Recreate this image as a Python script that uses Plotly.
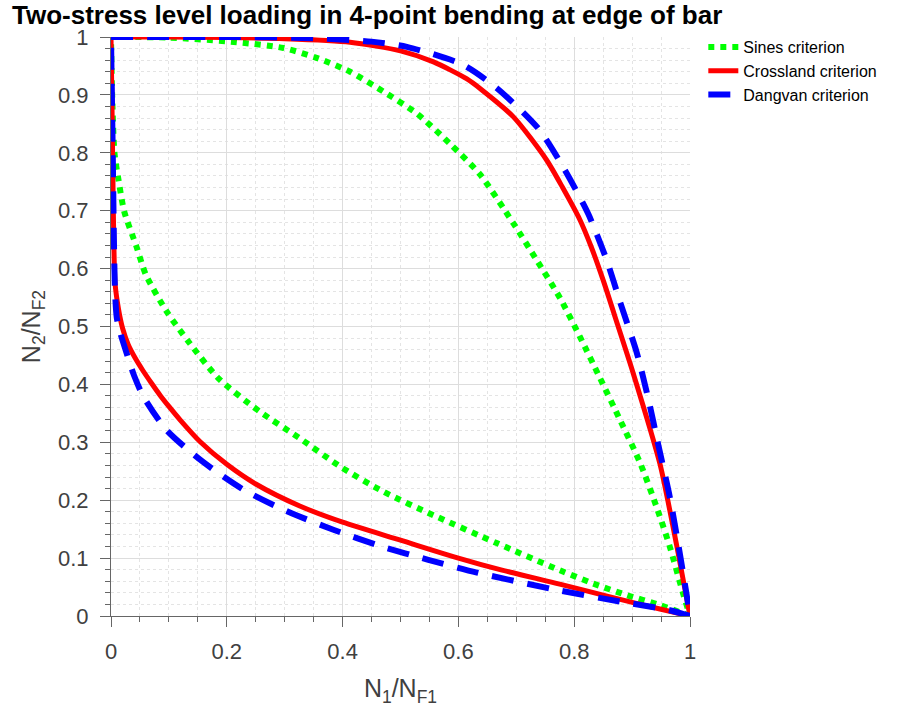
import plotly.graph_objects as go

# Damage curves N2/NF2 vs N1/NF1 for each criterion.
# "up" = low-high branch from (0,1) to (1,0); "dn" = high-low branch from (1,0) to (0,1).
sines_up_x = [0, 0.10, 0.217, 0.298, 0.355, 0.413, 0.470, 0.528, 0.585, 0.637, 0.695,
              0.735, 0.775, 0.810, 0.845, 0.879, 0.914, 0.942, 0.965, 0.988, 1.0]
sines_up_y = [1, 0.999, 0.991, 0.981, 0.964, 0.940, 0.906, 0.868, 0.816, 0.763, 0.678,
              0.615, 0.550, 0.482, 0.410, 0.339, 0.264, 0.189, 0.120, 0.039, 0.0]
sines_dn_x = [1.0, 0.948, 0.891, 0.833, 0.775, 0.666, 0.557, 0.470, 0.396, 0.326, 0.257,
              0.186, 0.136, 0.096, 0.060, 0.044, 0.023, 0.013, 0.006, 0.002, 0]
sines_dn_y = [0.0, 0.019, 0.036, 0.056, 0.079, 0.126, 0.174, 0.215, 0.258, 0.307, 0.353,
              0.410, 0.471, 0.526, 0.590, 0.638, 0.698, 0.753, 0.800, 0.900, 1]

crossland_up_x = [0, 0.10, 0.20, 0.30, 0.413, 0.50, 0.557, 0.614, 0.640, 0.695, 0.752,
                  0.780, 0.810, 0.830, 0.850, 0.875, 0.902, 0.948, 0.977, 1.0]
crossland_up_y = [1, 1.0, 0.999, 0.997, 0.991, 0.976, 0.957, 0.928, 0.909, 0.862, 0.788,
                  0.740, 0.684, 0.636, 0.580, 0.503, 0.419, 0.263, 0.122, 0.0]
crossland_dn_x = [1.0, 0.948, 0.862, 0.775, 0.672, 0.600, 0.500, 0.400, 0.326, 0.250,
                  0.200, 0.154, 0.120, 0.100, 0.085, 0.070, 0.055, 0.042, 0.030, 0.020,
                  0.013, 0.007, 0.004, 0.002, 0]
crossland_dn_y = [0.0, 0.012, 0.033, 0.055, 0.080, 0.100, 0.131, 0.162, 0.190, 0.228,
                  0.262, 0.301, 0.338, 0.362, 0.381, 0.402, 0.424, 0.445, 0.468, 0.497,
                  0.530, 0.575, 0.700, 0.860, 1]

dangvan_up_x = [0, 0.20, 0.35, 0.45, 0.511, 0.608, 0.666, 0.738, 0.784, 0.824, 0.856,
                0.880, 0.908, 0.928, 0.946, 0.965, 0.980, 0.994, 1.0]
dangvan_up_y = [1, 1.0, 0.998, 0.992, 0.983, 0.952, 0.912, 0.842, 0.770, 0.695, 0.615,
                0.540, 0.455, 0.375, 0.292, 0.206, 0.122, 0.038, 0.0]
dangvan_dn_x = [1.0, 0.965, 0.879, 0.775, 0.632, 0.548, 0.468, 0.384, 0.306, 0.229, 0.159,
                0.096, 0.056, 0.040, 0.025, 0.016, 0.010, 0.007, 0.005, 0.003, 0]
dangvan_dn_y = [0.0, 0.010, 0.025, 0.044, 0.075, 0.097, 0.120, 0.149, 0.180, 0.218, 0.266,
                0.321, 0.379, 0.415, 0.460, 0.489, 0.515, 0.560, 0.650, 0.800, 1]

x_ticks = [0, 0.2, 0.4, 0.6, 0.8, 1]
x_tick_text = ["0", "0.2", "0.4", "0.6", "0.8", "1"]
y_ticks = [0, 0.1, 0.2, 0.3, 0.4, 0.5, 0.6, 0.7, 0.8, 0.9, 1]
y_tick_text = ["0", "0.1", "0.2", "0.3", "0.4", "0.5", "0.6", "0.7", "0.8", "0.9", "1"]

FONT = "Liberation Sans, Arial, Helvetica, sans-serif"
AXIS_GRAY = "#404040"

series = [
    ("Sines criterion", sines_up_x, sines_up_y, sines_dn_x, sines_dn_y,
     dict(color="#00ff00", width=6, dash="dot")),
    ("Crossland criterion", crossland_up_x, crossland_up_y, crossland_dn_x, crossland_dn_y,
     dict(color="#ff0000", width=5)),
    ("Dangvan criterion", dangvan_up_x, dangvan_up_y, dangvan_dn_x, dangvan_dn_y,
     dict(color="#0000ff", width=6, dash="22px,14px")),
]

fig = go.Figure()
for name, ux, uy, dx, dy, line in series:
    for i, (xs, ys) in enumerate(((ux, uy), (dx, dy))):
        fig.add_trace(go.Scatter(
            x=xs, y=ys, mode="lines", name=name, legendgroup=name,
            showlegend=(i == 0),
            line=dict(shape="spline", smoothing=0.7, **line),
        ))

axis_common = dict(
    range=[0, 1],
    showline=True, linecolor="#666666", linewidth=1,
    ticks="outside", ticklen=10, tickcolor="#666666", tickwidth=1,
    tickfont=dict(family=FONT, size=22, color=AXIS_GRAY),
    showgrid=True, gridcolor="#dddddd", gridwidth=1,
    zeroline=False, mirror=False, fixedrange=True,
)

fig.update_xaxes(
    **axis_common,
    tickvals=x_ticks, ticktext=x_tick_text, ticklabelstandoff=6,
    minor=dict(dtick=0.05, tick0=0, ticks="outside", ticklen=5, tickcolor="#666666",
               showgrid=True, gridcolor="#e4e4e4", griddash="dot", gridwidth=1),
    title=dict(text="N<sub>1</sub>/N<sub>F1</sub>",
               font=dict(family=FONT, size=25, color=AXIS_GRAY), standoff=16),
)
fig.update_yaxes(
    **axis_common,
    tickvals=y_ticks, ticktext=y_tick_text, ticklabelstandoff=7,
    minor=dict(dtick=0.02, tick0=0, ticks="outside", ticklen=5, tickcolor="#666666",
               showgrid=True, gridcolor="#e4e4e4", griddash="dot", gridwidth=1),
    title=dict(text="N<sub>2</sub>/N<sub>F2</sub>",
               font=dict(family=FONT, size=25, color=AXIS_GRAY), standoff=10),
)

fig.update_layout(
    width=897, height=713,
    margin=dict(l=111, r=207, t=37, b=97, autoexpand=False),
    paper_bgcolor="white", plot_bgcolor="white",
    title=dict(text="<b>Two-stress level loading in 4-point bending at edge of bar</b>",
               font=dict(family=FONT, size=26, color="black"),
               x=12 / 897, xanchor="left", xref="container",
               y=1 - 15 / 713, yanchor="middle", yref="container"),
    legend=dict(x=1.023, xanchor="left", y=1.012, yanchor="top",
                font=dict(family=FONT, size=16, color="black"),
                bgcolor="rgba(255,255,255,0)", borderwidth=0,
                itemwidth=30, tracegroupgap=0),
    showlegend=True,
)

fig.write_html("out.html")
